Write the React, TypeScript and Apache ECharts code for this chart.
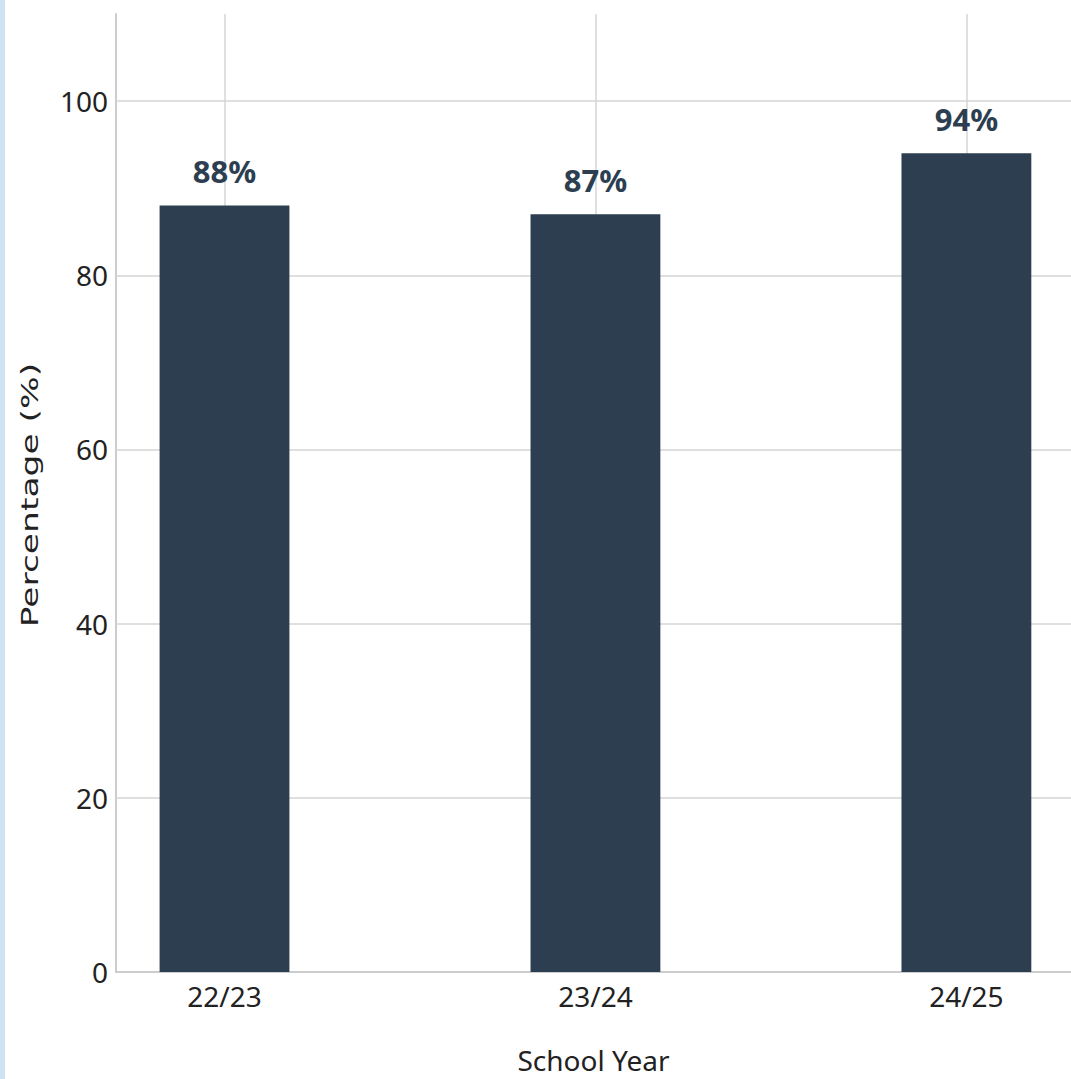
import { useEffect, useRef } from "react";
import * as echarts from "echarts";

// Share of students per school year
const categories = ["22/23", "23/24", "24/25"];
const percentages = [88, 87, 94];
const yTicks = [0, 20, 40, 60, 80, 100];
const Y_MAX = 110;
// Bars are 0.35 category-units wide; the x range leaves a margin around them
const BAR_UNITS = 0.35;
const X_MIN = -0.2925;
const X_MAX = 2.282;

const W = 1071;
const H = 1079;
const GRID = { left: 116, right: 0, top: 14, bottom: 106 };

const SANS = "'Noto Sans', 'DejaVu Sans Condensed', sans-serif";
const INK = "#2c3e50";
const RULE = "#d4d4d4";

export default function App() {
  const ref = useRef<HTMLDivElement>(null);

  useEffect(() => {
    if (!ref.current) return;
    const chart = echarts.init(ref.current, undefined, { renderer: "svg" });
    const plotW = W - GRID.left - GRID.right;
    const barPx = (BAR_UNITS * plotW) / (X_MAX - X_MIN);

    chart.setOption({
      animation: false,
      backgroundColor: "#ffffff",
      grid: { ...GRID, containLabel: false },
      graphic: [
        {
          type: "rect",
          shape: { x: 0, y: 0, width: 5, height: H },
          style: { fill: "#cfe2f3" },
          silent: true,
        },
        {
          type: "text",
          x: 30,
          y: 495,
          rotation: Math.PI / 2,
          scaleX: 1.5,
          style: {
            text: "Percentage (%)",
            font: '23px "DejaVu Sans"',
            fill: "#222",
            align: "center",
            verticalAlign: "middle",
          },
          silent: true,
        },
      ],
      xAxis: {
        type: "value",
        min: X_MIN,
        max: X_MAX,
        name: "School Year",
        nameLocation: "middle",
        nameGap: 74,
        nameTextStyle: { fontFamily: SANS, fontSize: 28, color: "#222" },
        axisLine: { show: true, onZero: false, lineStyle: { color: "#cccccc", width: 2 } },
        axisTick: { show: false },
        splitLine: { show: false },
        axisLabel: {
          customValues: categories.map((_, i) => i),
          formatter: (v: number) => categories[Math.round(v)] ?? "",
          fontFamily: SANS,
          fontSize: 28,
          color: "#222",
          margin: 10,
        },
      },
      yAxis: {
        type: "value",
        min: 0,
        max: Y_MAX,
        axisLine: { show: true, onZero: false, lineStyle: { color: "#cccccc", width: 2 } },
        axisTick: { show: false },
        splitLine: { show: false },
        axisLabel: {
          customValues: yTicks,
          fontFamily: SANS,
          fontSize: 28,
          color: "#222",
          margin: 8,
        },
      },
      series: [
        {
          type: "bar",
          z: 10,
          barWidth: barPx,
          data: percentages.map((v, i) => [i, v]),
          itemStyle: { color: INK },
          label: {
            show: true,
            position: "top",
            distance: 19,
            formatter: (p: any) => `${p.value[1]}%`,
            fontFamily: SANS,
            fontWeight: "bold",
            fontSize: 31,
            color: INK,
          },
          markLine: {
            silent: true,
            z: 1,
            symbol: "none",
            label: { show: false },
            lineStyle: { color: RULE, width: 1.5, type: "solid" },
            emphasis: { disabled: true },
            data: [
              ...categories.map((_, i) => ({ xAxis: i })),
              ...yTicks.filter((t) => t > 0).map((t) => ({ yAxis: t })),
            ],
          },
        },
      ],
    });

    return () => chart.dispose();
  }, []);

  return (
    <div
      ref={ref}
      style={{ position: "absolute", left: 0, top: 0, width: W, height: H }}
    />
  );
}
